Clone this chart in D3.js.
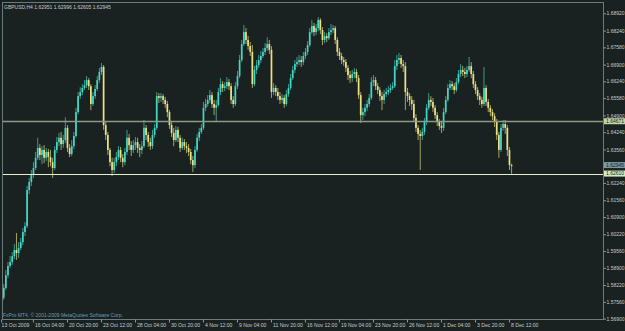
<!DOCTYPE html>
<html>
<head>
<meta charset="utf-8">
<script src="https://cdn.jsdelivr.net/npm/d3@7"></script>
<style>
  html, body { margin: 0; padding: 0; background: #1a2121; }
  svg { display: block; }
  .txt { font-family: "Liberation Sans", Arial, sans-serif; font-size: 5px; }
</style>
</head>
<body>
<div id="chart"></div>
<script>
// GBPUSD H4 bars, 13 Oct 2009 16:00 .. 8 Dec 2009 16:00
const opens = [1.5743,1.5772,1.5811,1.5861,1.5897,1.5913,1.5936,1.5960,1.5948,1.5968,1.5991,1.6031,1.6054,1.6196,1.6228,1.6255,1.6283,1.6323,1.6362,1.6334,
1.6354,1.6323,1.6346,1.6326,1.6306,1.6283,1.6354,1.6385,1.6402,1.6377,1.6393,1.6441,1.6362,1.6338,1.6369,1.6409,1.6503,1.6566,1.6582,1.6598,
1.6609,1.6629,1.6605,1.6535,1.6566,1.6594,1.6629,1.6661,1.6681,1.6452,1.6413,1.6354,1.6306,1.6275,1.6306,1.6326,1.6354,1.6323,1.6306,1.6346,
1.6402,1.6373,1.6354,1.6373,1.6385,1.6362,1.6354,1.6369,1.6441,1.6413,1.6385,1.6369,1.6413,1.6441,1.6566,1.6559,1.6566,1.6551,1.6535,1.6503,
1.6452,1.6421,1.6393,1.6433,1.6402,1.6362,1.6385,1.6369,1.6362,1.6346,1.6314,1.6294,1.6354,1.6402,1.6425,1.6441,1.6520,1.6535,1.6551,1.6570,
1.6535,1.6520,1.6531,1.6582,1.6613,1.6598,1.6605,1.6621,1.6605,1.6551,1.6535,1.6605,1.6645,1.6708,1.6771,1.6818,1.6787,1.6763,1.6740,1.6613,
1.6669,1.6688,1.6708,1.6724,1.6740,1.6755,1.6771,1.6748,1.6582,1.6598,1.6582,1.6566,1.6551,1.6559,1.6535,1.6574,1.6598,1.6637,1.6669,1.6692,
1.6700,1.6708,1.6700,1.6724,1.6740,1.6767,1.6818,1.6842,1.6818,1.6834,1.6866,1.6826,1.6787,1.6802,1.6794,1.6818,1.6826,1.6834,1.6787,1.6740,
1.6724,1.6708,1.6700,1.6677,1.6649,1.6637,1.6653,1.6661,1.6637,1.6570,1.6491,1.6503,1.6520,1.6535,1.6559,1.6621,1.6629,1.6605,1.6590,1.6566,
1.6551,1.6574,1.6582,1.6590,1.6598,1.6605,1.6684,1.6708,1.6716,1.6692,1.6684,1.6582,1.6566,1.6551,1.6535,1.6480,1.6441,1.6417,1.6409,1.6425,
1.6464,1.6520,1.6551,1.6543,1.6520,1.6491,1.6464,1.6448,1.6441,1.6503,1.6551,1.6598,1.6613,1.6605,1.6590,1.6621,1.6653,1.6669,1.6661,1.6653,
1.6669,1.6684,1.6653,1.6613,1.6590,1.6566,1.6551,1.6535,1.6598,1.6543,1.6520,1.6503,1.6487,1.6464,1.6413,1.6354,1.6441,1.6456,1.6441,1.6354,
1.62951]
const highs = [1.5795,1.5826,1.5881,1.5913,1.5936,1.5952,1.5983,1.6027,1.5991,1.6008,1.6047,1.6070,1.6212,1.6244,1.6275,1.6306,1.6346,1.6402,1.6377,1.6369,
1.6373,1.6362,1.6358,1.6354,1.6323,1.6369,1.6405,1.6421,1.6425,1.6413,1.6483,1.6452,1.6377,1.6393,1.6425,1.6520,1.6582,1.6601,1.6613,1.6629,
1.6645,1.6637,1.6613,1.6582,1.6609,1.6645,1.6677,1.6696,1.6688,1.6464,1.6425,1.6362,1.6323,1.6323,1.6346,1.6369,1.6366,1.6338,1.6362,1.6433,
1.6417,1.6389,1.6393,1.6405,1.6402,1.6377,1.6389,1.6472,1.6452,1.6425,1.6402,1.6433,1.6456,1.6582,1.6578,1.6578,1.6574,1.6563,1.6547,1.6511,
1.6464,1.6441,1.6448,1.6445,1.6413,1.6402,1.6397,1.6385,1.6377,1.6358,1.6330,1.6369,1.6417,1.6441,1.6456,1.6543,1.6555,1.6570,1.6590,1.6582,
1.6551,1.6551,1.6598,1.6637,1.6625,1.6621,1.6641,1.6633,1.6617,1.6566,1.6621,1.6665,1.6728,1.6787,1.6846,1.6834,1.6803,1.6779,1.6767,1.6685,
1.6708,1.6728,1.6744,1.6755,1.6775,1.6798,1.6787,1.6763,1.6617,1.6609,1.6598,1.6582,1.6574,1.6570,1.6590,1.6613,1.6653,1.6685,1.6708,1.6720,
1.6728,1.6724,1.6740,1.6755,1.6783,1.6834,1.6866,1.6854,1.6850,1.6877,1.6873,1.6838,1.6818,1.6814,1.6834,1.6850,1.6846,1.6842,1.6798,1.6755,
1.6736,1.6720,1.6712,1.6688,1.6665,1.6669,1.6677,1.6673,1.6649,1.6582,1.6520,1.6535,1.6551,1.6574,1.6641,1.6649,1.6641,1.6617,1.6601,1.6582,
1.6590,1.6598,1.6605,1.6613,1.6621,1.6708,1.6728,1.6736,1.6728,1.6708,1.6700,1.6598,1.6578,1.6566,1.6551,1.6495,1.6452,1.6433,1.6441,1.6480,
1.6535,1.6578,1.6566,1.6559,1.6531,1.6503,1.6476,1.6464,1.6520,1.6566,1.6613,1.6629,1.6625,1.6617,1.6637,1.6669,1.6692,1.6685,1.6677,1.6685,
1.6720,1.6700,1.6665,1.6625,1.6601,1.6578,1.6563,1.6681,1.6609,1.6555,1.6531,1.6515,1.6499,1.6476,1.6425,1.6456,1.6472,1.6472,1.6452,1.6366,
1.62996]
const lows = [1.5735,1.5763,1.5803,1.5850,1.5890,1.5901,1.5925,1.5921,1.5929,1.5960,1.5979,1.6015,1.6047,1.6180,1.6212,1.6244,1.6275,1.6314,1.6314,1.6298,
1.6302,1.6310,1.6286,1.6290,1.6244,1.6275,1.6342,1.6369,1.6354,1.6362,1.6381,1.6346,1.6326,1.6330,1.6358,1.6402,1.6495,1.6555,1.6570,1.6590,
1.6598,1.6590,1.6511,1.6527,1.6555,1.6586,1.6617,1.6649,1.6433,1.6393,1.6334,1.6290,1.6251,1.6263,1.6290,1.6314,1.6306,1.6286,1.6294,1.6334,
1.6354,1.6330,1.6342,1.6354,1.6342,1.6326,1.6338,1.6362,1.6393,1.6366,1.6354,1.6358,1.6402,1.6433,1.6539,1.6543,1.6535,1.6520,1.6483,1.6437,
1.6405,1.6369,1.6385,1.6385,1.6346,1.6354,1.6354,1.6342,1.6330,1.6298,1.6267,1.6283,1.6346,1.6389,1.6417,1.6433,1.6507,1.6524,1.6539,1.6520,
1.6491,1.6464,1.6524,1.6570,1.6582,1.6586,1.6594,1.6590,1.6535,1.6520,1.6527,1.6594,1.6637,1.6700,1.6763,1.6771,1.6748,1.6724,1.6598,1.6605,
1.6653,1.6677,1.6696,1.6716,1.6728,1.6744,1.6732,1.6559,1.6570,1.6566,1.6551,1.6535,1.6539,1.6520,1.6527,1.6563,1.6590,1.6629,1.6657,1.6681,
1.6688,1.6681,1.6688,1.6712,1.6728,1.6759,1.6810,1.6802,1.6806,1.6822,1.6810,1.6767,1.6775,1.6779,1.6787,1.6806,1.6814,1.6771,1.6724,1.6708,
1.6692,1.6685,1.6661,1.6629,1.6617,1.6621,1.6637,1.6621,1.6555,1.6460,1.6472,1.6487,1.6507,1.6524,1.6551,1.6605,1.6590,1.6574,1.6547,1.6511,
1.6535,1.6563,1.6570,1.6578,1.6590,1.6598,1.6669,1.6692,1.6677,1.6661,1.6511,1.6543,1.6527,1.6511,1.6464,1.6425,1.6393,1.6275,1.6393,1.6413,
1.6452,1.6511,1.6527,1.6503,1.6476,1.6448,1.6433,1.6421,1.6429,1.6495,1.6543,1.6590,1.6590,1.6574,1.6582,1.6613,1.6641,1.6645,1.6637,1.6641,
1.6661,1.6637,1.6598,1.6574,1.6551,1.6531,1.6520,1.6527,1.6527,1.6503,1.6487,1.6472,1.6444,1.6393,1.6323,1.6346,1.6429,1.6417,1.6330,1.6275,
1.62605]
const closes = [1.5772,1.5811,1.5861,1.5897,1.5913,1.5936,1.5960,1.5948,1.5968,1.5991,1.6031,1.6054,1.6196,1.6228,1.6255,1.6283,1.6323,1.6362,1.6334,1.6354,
1.6323,1.6346,1.6326,1.6306,1.6283,1.6354,1.6385,1.6402,1.6377,1.6393,1.6441,1.6362,1.6338,1.6369,1.6409,1.6503,1.6566,1.6582,1.6598,1.6609,
1.6629,1.6605,1.6535,1.6566,1.6594,1.6629,1.6661,1.6681,1.6452,1.6413,1.6354,1.6306,1.6275,1.6306,1.6326,1.6354,1.6323,1.6306,1.6346,1.6402,
1.6373,1.6354,1.6373,1.6385,1.6362,1.6354,1.6369,1.6441,1.6413,1.6385,1.6369,1.6413,1.6441,1.6566,1.6559,1.6566,1.6551,1.6535,1.6503,1.6452,
1.6421,1.6393,1.6433,1.6402,1.6362,1.6385,1.6369,1.6362,1.6346,1.6314,1.6294,1.6354,1.6402,1.6425,1.6441,1.6520,1.6535,1.6551,1.6570,1.6535,
1.6520,1.6531,1.6582,1.6613,1.6598,1.6605,1.6621,1.6605,1.6551,1.6535,1.6605,1.6645,1.6708,1.6771,1.6818,1.6787,1.6763,1.6740,1.6613,1.6669,
1.6688,1.6708,1.6724,1.6740,1.6755,1.6771,1.6748,1.6582,1.6598,1.6582,1.6566,1.6551,1.6559,1.6535,1.6574,1.6598,1.6637,1.6669,1.6692,1.6700,
1.6708,1.6700,1.6724,1.6740,1.6767,1.6818,1.6842,1.6818,1.6834,1.6866,1.6826,1.6787,1.6802,1.6794,1.6818,1.6826,1.6834,1.6787,1.6740,1.6724,
1.6708,1.6700,1.6677,1.6649,1.6637,1.6653,1.6661,1.6637,1.6570,1.6491,1.6503,1.6520,1.6535,1.6559,1.6621,1.6629,1.6605,1.6590,1.6566,1.6551,
1.6574,1.6582,1.6590,1.6598,1.6605,1.6684,1.6708,1.6716,1.6692,1.6684,1.6582,1.6566,1.6551,1.6535,1.6480,1.6441,1.6417,1.6409,1.6425,1.6464,
1.6520,1.6551,1.6543,1.6520,1.6491,1.6464,1.6448,1.6441,1.6503,1.6551,1.6598,1.6613,1.6605,1.6590,1.6621,1.6653,1.6669,1.6661,1.6653,1.6669,
1.6684,1.6653,1.6613,1.6590,1.6566,1.6551,1.6535,1.6598,1.6543,1.6520,1.6503,1.6487,1.6464,1.6413,1.6354,1.6441,1.6456,1.6441,1.6354,1.62951,
1.62945]

const priceTicks = [1.68920,1.68240,1.67580,1.66900,1.66240,1.65580,1.64900,1.64240,1.63560,1.62900,
  1.62240,1.61560,1.60900,1.60220,1.59560,1.58900,1.58220,1.57560,1.56900]
const timeTickBars = [0,15,31,47,63,79,95,111,127,143,159,175,191,207,223,239]
const timeTickLabels = ['13 Oct 2009','16 Oct 04:00','20 Oct 20:00','23 Oct 12:00','28 Oct 04:00','30 Oct 20:00',
  '4 Nov 12:00','9 Nov 04:00','11 Nov 20:00','16 Nov 12:00','19 Nov 04:00','23 Nov 20:00','26 Nov 12:00',
  '1 Dec 04:00','3 Dec 20:00','8 Dec 12:00']
const levels = [1.64671, 1.62610]
const lastPrice = 1.62945
const title = 'GBPUSD,H4  1.62951 1.62996 1.62605 1.62945'
const copyright = 'FxPro MT4, \u00a9 2001-2009 MetaQuotes Software Corp.'

const width = 625
const height = 331
const frame = { left: 2, top: 2, right: 603, bottom: 319 }
const bg = '#1a2121'
const bullColor = '#46d8c6'
const bearColor = '#ece282'
const axisText = '#c4cccc'
const fontFamily = '"Liberation Sans", Arial, sans-serif'

const svg = d3.select('#chart').append('svg')
  .attr('width', width)
  .attr('height', height)
  .attr('viewBox', `0 0 ${width} ${height}`)

svg.append('rect').attr('width', width).attr('height', height).attr('fill', bg)

const x = d3.scaleLinear().domain([0, 240]).range([1.1, 511.1])
const y = d3.scaleLinear().domain([1.56900, 1.68920]).range([318.6, 13.3])

const bars = closes.map((c, i) => ({ i, o: opens[i], h: highs[i], l: lows[i], c }))

const plot = svg.append('g')
plot.append('clipPath').attr('id', 'clip')
  .append('rect')
  .attr('x', frame.left).attr('y', frame.top)
  .attr('width', frame.right - frame.left).attr('height', frame.bottom - frame.top)

const candles = plot.append('g').attr('clip-path', 'url(#clip)')

// wicks
candles.selectAll('line.wick')
  .data(bars)
  .join('line')
  .attr('class', 'wick')
  .attr('x1', d => x(d.i) + 0.5)
  .attr('x2', d => x(d.i) + 0.5)
  .attr('y1', d => y(Math.max(d.h, d.o, d.c)))
  .attr('y2', d => y(Math.min(d.l, d.o, d.c)))
  .attr('stroke', d => d.c >= d.o ? bullColor : bearColor)
  .attr('stroke-opacity', 0.75)
  .attr('stroke-width', 0.9)

// bodies
candles.selectAll('rect.body')
  .data(bars)
  .join('rect')
  .attr('class', 'body')
  .attr('x', d => x(d.i) - 0.35)
  .attr('width', 1.7)
  .attr('y', d => y(Math.max(d.o, d.c)))
  .attr('height', d => Math.max(1, Math.abs(y(d.o) - y(d.c))))
  .attr('fill', d => d.c >= d.o ? bullColor : bearColor)

// horizontal levels
const levelColors = ['#8c9c84', '#e4f2cc']
plot.selectAll('line.level')
  .data(levels)
  .join('line')
  .attr('class', 'level')
  .attr('x1', frame.left)
  .attr('x2', frame.right)
  .attr('y1', d => Math.round(y(d)) + 0.5)
  .attr('y2', d => Math.round(y(d)) + 0.5)
  .attr('stroke', (d, i) => levelColors[i])
  .attr('stroke-width', (d, i) => i === 0 ? 1.6 : 1.1)

// frame
svg.append('rect')
  .attr('x', frame.left + 0.5).attr('y', frame.top + 0.5)
  .attr('width', frame.right - frame.left).attr('height', frame.bottom - frame.top)
  .attr('fill', 'none')
  .attr('stroke', '#6b7a7a')
  .attr('stroke-width', 1)

// right price axis
const yAxis = d3.axisRight(y)
  .tickValues(priceTicks)
  .tickSize(2.5)
  .tickSizeOuter(0)
  .tickFormat(d3.format('.5f'))

const ya = svg.append('g')
  .attr('transform', `translate(${frame.right + 0.5},0)`)
  .call(yAxis)
ya.select('.domain').remove()
ya.selectAll('.tick line').attr('stroke', '#8a9898')
ya.selectAll('.tick text')
  .attr('x', 3)
  .attr('fill', axisText)
  .style('font-family', fontFamily)
  .style('font-size', '5px')

// bottom time axis
const xAxis = d3.axisBottom(x)
  .tickValues(timeTickBars)
  .tickSize(3)
  .tickSizeOuter(0)
  .tickFormat((d, i) => timeTickLabels[i])

const xa = svg.append('g')
  .attr('transform', `translate(0,${frame.bottom + 0.5})`)
  .call(xAxis)
xa.select('.domain').remove()
xa.selectAll('.tick line').attr('stroke', '#8a9898')
xa.selectAll('.tick text')
  .attr('text-anchor', 'start')
  .attr('x', (d, i) => i === 0 ? 0 : 1.5)
  .attr('y', 4)
  .attr('dy', '0.71em')
  .attr('fill', axisText)
  .style('font-family', fontFamily)
  .style('font-size', '5.1px')

// price tags on the axis
const tags = [
  { v: levels[0], fill: '#bfd6a8', text: '#1a2121' },
  { v: lastPrice, fill: '#7b98a4', text: '#102020' },
  { v: levels[1], fill: '#d6ecbc', text: '#1a2121' }
]
const tag = svg.append('g').selectAll('g')
  .data(tags)
  .join('g')
  .attr('transform', d => `translate(${frame.right + 1},${y(d.v)})`)
tag.append('rect')
  .attr('x', 0).attr('y', -3)
  .attr('width', 21).attr('height', 6)
  .attr('fill', d => d.fill)
tag.append('text')
  .attr('class', 'txt')
  .attr('x', 2)
  .attr('y', 1.8)
  .attr('fill', d => d.text)
  .text(d => d.v.toFixed(5))

// header and footer
svg.append('text')
  .attr('class', 'txt')
  .attr('x', 4).attr('y', 8.5)
  .attr('fill', axisText)
  .text(title)

svg.append('text')
  .attr('class', 'txt')
  .attr('x', 3).attr('y', 317)
  .attr('fill', '#6c9cb0')
  .text(copyright)
</script>
</body>
</html>
